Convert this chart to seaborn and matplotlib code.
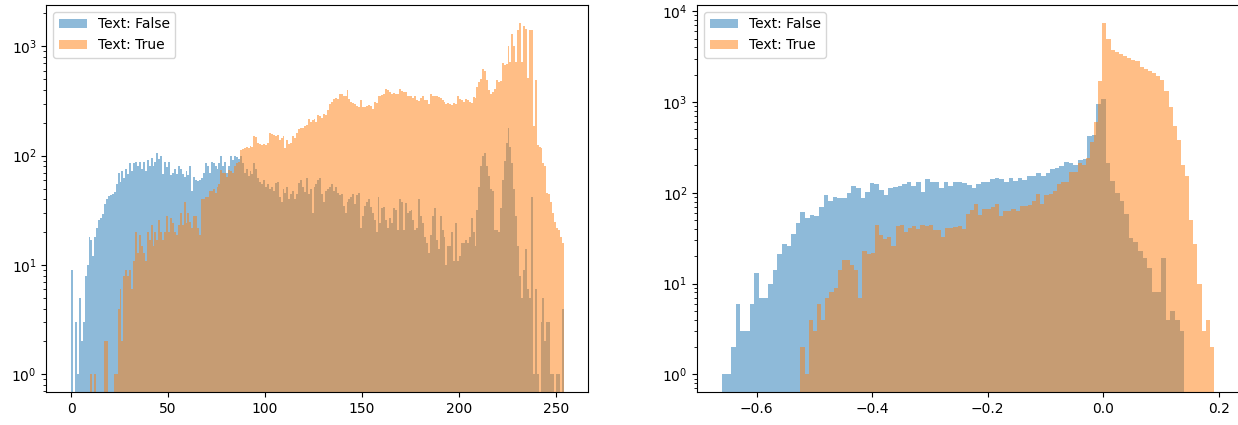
import numpy as np
import pandas as pd
import matplotlib
matplotlib.use("Agg")
import matplotlib.pyplot as plt
from matplotlib.patches import Patch
import seaborn as sns

# ---------------- data (bin counts) ----------------
labels = ["Text: False", "Text: True"]
colors = ["#1f77b4", "#ff7f0e"]

# Left panel: intensity histogram (bins of width 1)
left_false_range = (0, 254)
left_false_counts = [
    9, 0, 3, 1, 5, 2, 3, 8, 10, 18,
    17, 12, 18, 22, 26, 27, 29, 36, 40, 43,
    44, 45, 47, 55, 70, 57, 72, 62, 75, 68,
    85, 72, 85, 88, 80, 88, 75, 88, 72, 92,
    80, 95, 80, 88, 106, 94, 100, 68, 88, 78,
    88, 66, 70, 75, 68, 80, 75, 68, 64, 72,
    66, 80, 48, 64, 60, 59, 60, 62, 70, 85,
    80, 70, 88, 85, 80, 75, 85, 100, 80, 88,
    70, 80, 100, 92, 100, 98, 94, 100, 85, 70,
    75, 65, 72, 68, 85, 75, 62, 58, 55, 60,
    52, 55, 50, 52, 48, 56, 58, 42, 38, 50,
    46, 52, 40, 45, 48, 40, 45, 56, 60, 52,
    47, 62, 45, 50, 30, 52, 55, 60, 62, 45,
    38, 48, 50, 52, 55, 48, 52, 46, 44, 45,
    35, 30, 38, 40, 42, 45, 36, 44, 46, 22,
    28, 35, 38, 40, 34, 30, 26, 20, 42, 24,
    33, 34, 26, 22, 27, 24, 33, 32, 21, 40,
    38, 21, 37, 30, 31, 32, 26, 21, 22, 40,
    28, 24, 18, 16, 13, 19, 28, 33, 17, 14,
    28, 21, 18, 10, 15, 15, 20, 11, 24, 11,
    12, 16, 16, 17, 16, 18, 27, 20, 15, 32,
    52, 80, 100, 105, 80, 65, 50, 48, 21, 21,
    20, 33, 60, 90, 130, 180, 120, 85, 50, 28,
    15, 8, 5, 9, 14, 6, 5, 42, 1, 6,
    1, 0, 3, 5, 2, 3, 3, 1, 1, 0,
    1, 1, 0, 4,
]
left_true_range = (10, 254)
left_true_counts = [
    1, 0, 1, 0, 0, 0, 0, 2, 2, 0,
    0, 0, 1, 1, 4, 6, 2, 8, 9, 8,
    9, 6, 11, 20, 13, 19, 15, 13, 11, 20,
    17, 23, 15, 20, 17, 26, 20, 17, 20, 28,
    20, 27, 24, 20, 19, 23, 30, 23, 38, 24,
    30, 25, 22, 28, 28, 22, 19, 40, 40, 42,
    42, 48, 48, 50, 46, 52, 55, 74, 70, 70,
    64, 74, 72, 70, 80, 85, 88, 113, 115, 118,
    120, 118, 122, 120, 150, 148, 130, 128, 125, 128,
    126, 132, 160, 158, 155, 152, 156, 140, 145, 150,
    118, 140, 128, 132, 150, 145, 160, 175, 180, 178,
    185, 190, 215, 205, 210, 215, 205, 235, 230, 222,
    240, 235, 260, 300, 310, 330, 335, 330, 365, 370,
    355, 350, 400, 330, 310, 305, 300, 285, 280, 320,
    280, 280, 285, 290, 285, 270, 310, 305, 355, 350,
    360, 365, 410, 400, 385, 370, 375, 370, 365, 410,
    390, 380, 385, 355, 350, 355, 340, 350, 320, 318,
    340, 355, 325, 320, 300, 370, 355, 355, 350, 345,
    340, 320, 310, 300, 305, 300, 290, 305, 300, 355,
    330, 320, 310, 330, 320, 310, 305, 345, 340, 425,
    470, 500, 620, 600, 490, 400, 370, 380, 410, 490,
    470, 480, 700, 680, 690, 1000, 720, 1300, 1000, 720,
    1400, 1650, 720, 1550, 1450, 510, 1400, 1400, 185, 490,
    125, 120, 118, 85, 80, 46, 45, 38, 30, 25,
    22, 21, 18, 16,
]

# Right panel: score histogram (100 bins per series)
right_false_range = (-0.66, 0.14)
right_false_counts = [
    1, 1, 2, 6, 3, 3, 6, 13, 7, 7,
    10, 14, 21, 27, 26, 35, 46, 61, 53, 57,
    56, 70, 95, 82, 90, 88, 87, 100, 118, 114,
    88, 102, 128, 126, 107, 94, 114, 117, 120, 124,
    131, 119, 131, 102, 141, 132, 132, 114, 132, 119,
    132, 132, 128, 121, 114, 125, 130, 132, 141, 146,
    141, 130, 145, 134, 147, 138, 153, 153, 164, 153,
    164, 183, 188, 198, 216, 211, 202, 228, 238, 425,
    430, 950, 1080, 215, 135, 100, 81, 58, 32, 29,
    23, 19, 15, 8, 8, 19, 4, 5, 4, 3,
]
right_true_range = (-0.524, 0.1915)
right_true_counts = [
    2, 1, 4, 3, 6, 4, 7, 8, 9, 14,
    18, 18, 16, 14, 7, 23, 21, 22, 44, 34,
    31, 33, 26, 43, 44, 37, 41, 43, 40, 44,
    43, 44, 39, 39, 33, 41, 41, 42, 43, 40,
    58, 64, 75, 57, 66, 67, 69, 76, 56, 63,
    63, 66, 63, 71, 72, 73, 81, 98, 75, 94,
    96, 105, 124, 132, 132, 168, 170, 215, 200, 240,
    360, 595, 1700, 7500, 4900, 3700, 3600, 3400, 3200, 3050,
    2900, 2850, 2400, 2300, 2200, 2100, 1950, 1750, 1320, 890,
    550, 385, 200, 153, 50, 27, 10, 3, 4, 2,
]

panels = [
    [(left_false_range, left_false_counts), (left_true_range, left_true_counts)],
    [(right_false_range, right_false_counts), (right_true_range, right_true_counts)],
]

# ---------------- figure ----------------
fig = plt.figure(figsize=(12.38, 4.25), dpi=100)
ax_l = fig.add_axes([0.0375, 0.0777, 0.4378, 0.9106])
ax_r = fig.add_axes([0.5632, 0.0777, 0.4373, 0.9106])

for ax, series in zip([ax_l, ax_r], panels):
    all_lo, all_hi, cmax = [], [], 1
    for (rng, counts), col in zip(series, colors):
        counts = np.asarray(counts, dtype=float)
        n = len(counts)
        width = (rng[1] - rng[0]) / n
        centers = rng[0] + width * (np.arange(n) + 0.5)
        df = pd.DataFrame({"value": centers, "count": counts})
        sns.histplot(data=df, x="value", weights="count", bins=n,
                     binrange=rng, color=col, alpha=0.5, linewidth=0,
                     ax=ax, element="bars", stat="count")
        all_lo.append(rng[0]); all_hi.append(rng[1])
        cmax = max(cmax, counts.max())
    ax.set_yscale("log")
    lo, hi = min(all_lo), max(all_hi)
    pad = 0.05 * (hi - lo)
    ax.set_xlim(lo - pad, hi + pad)
    lm = np.log10(cmax)
    ax.set_ylim(10 ** (-0.05 * lm), 10 ** (1.05 * lm))
    ax.set_xlabel("")
    ax.set_ylabel("")
    handles = [Patch(facecolor=c, alpha=0.5, edgecolor="none") for c in colors]
    ax.legend(handles, labels, loc="upper left")

fig.savefig("out.png", dpi=100)
